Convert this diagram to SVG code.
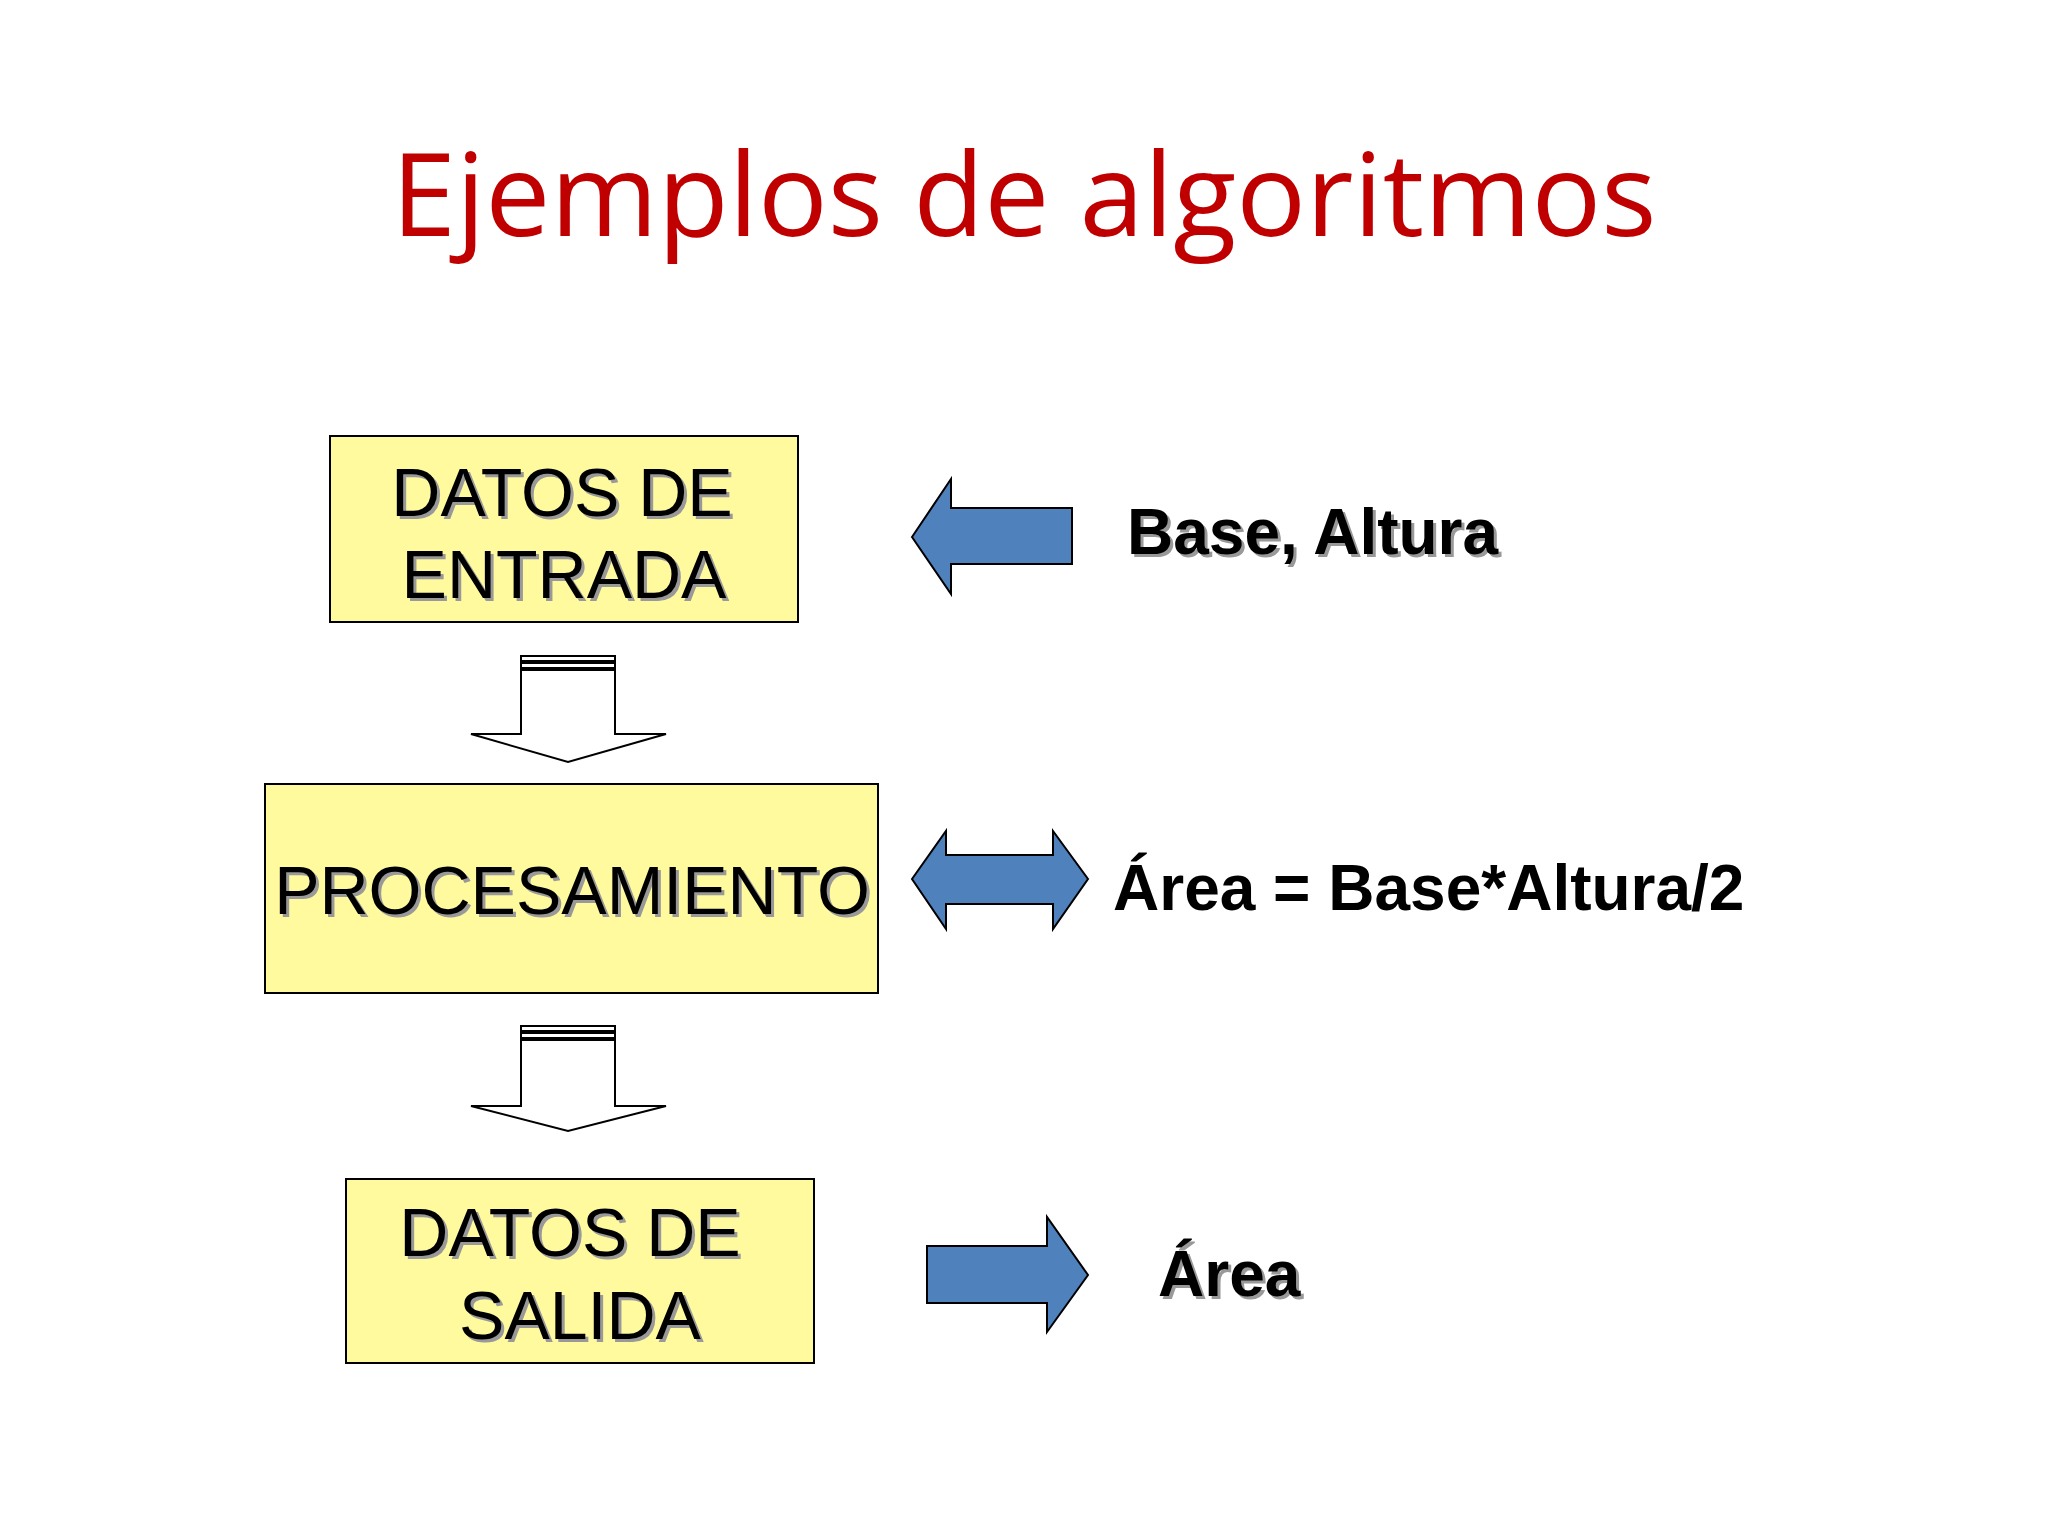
<svg xmlns="http://www.w3.org/2000/svg" width="2048" height="1536" viewBox="0 0 2048 1536">
<style>
.box{fill:#FFFA9E;stroke:#000;stroke-width:2}
.bt{font-family:"Liberation Sans",Arial,sans-serif;font-size:68px;text-anchor:middle}
.lb{font-family:"Liberation Sans",Arial,sans-serif;font-size:64px;font-weight:bold}
.sh{fill:#999}
.blue{fill:#4F81BD;stroke:#000;stroke-width:2}
.down{fill:#fff;stroke:#000;stroke-width:2}
</style>
<rect width="2048" height="1536" fill="#fff"/>
<text x="1024" y="236" font-family="'Open Sans','Liberation Sans',sans-serif" font-size="116" fill="#C00000" text-anchor="middle">Ejemplos de algoritmos</text>
<g id="entrada">
<rect class="box" x="330" y="436" width="468" height="186"/>
<text class="bt sh" x="565" y="519">DATOS DE</text><text class="bt" x="562" y="516">DATOS DE</text>
<text class="bt sh" x="567" y="601">ENTRADA</text><text class="bt" x="564" y="598">ENTRADA</text>
</g>
<g id="procesamiento">
<rect class="box" x="265" y="784" width="613" height="209"/>
<text class="bt sh" x="575" y="917">PROCESAMIENTO</text><text class="bt" x="572" y="914">PROCESAMIENTO</text>
</g>
<g id="salida">
<rect class="box" x="346" y="1179" width="468" height="184"/>
<text class="bt sh" x="573" y="1259">DATOS DE</text><text class="bt" x="570" y="1256">DATOS DE</text>
<text class="bt sh" x="583" y="1342">SALIDA</text><text class="bt" x="580" y="1339">SALIDA</text>
</g>
<g id="labels">
<text class="lb sh" x="1130" y="557">Base, Altura</text><text class="lb" x="1127" y="554">Base, Altura</text>
<text class="lb" x="1113" y="910">Área = Base*Altura/2</text>
<text class="lb sh" x="1161" y="1299">Área</text><text class="lb" x="1158" y="1296">Área</text>
</g>
<g id="connectors">
<path class="down" d="M521 670 V734 H471 L568 762 L666 734 H615 V670 Z"/>
<path class="down" d="M521 656 H615 V661 H521 Z M521 663 H615 V668 H521 Z"/>
<path class="down" d="M521 1040 V1106 H471 L568 1131 L666 1106 H615 V1040 Z"/>
<path class="down" d="M521 1026 H615 V1031 H521 Z M521 1033 H615 V1038 H521 Z"/>
<path class="blue" d="M912 537 L951 479 V508 H1072 V564 H951 V594 Z"/>
<path class="blue" d="M912 879 L946 831 V855 H1053 V831 L1088 879 L1053 929 V904 H946 V929 Z"/>
<path class="blue" d="M927 1246 H1047 V1217 L1088 1275 L1047 1332 V1303 H927 Z"/>
</g>
</svg>
